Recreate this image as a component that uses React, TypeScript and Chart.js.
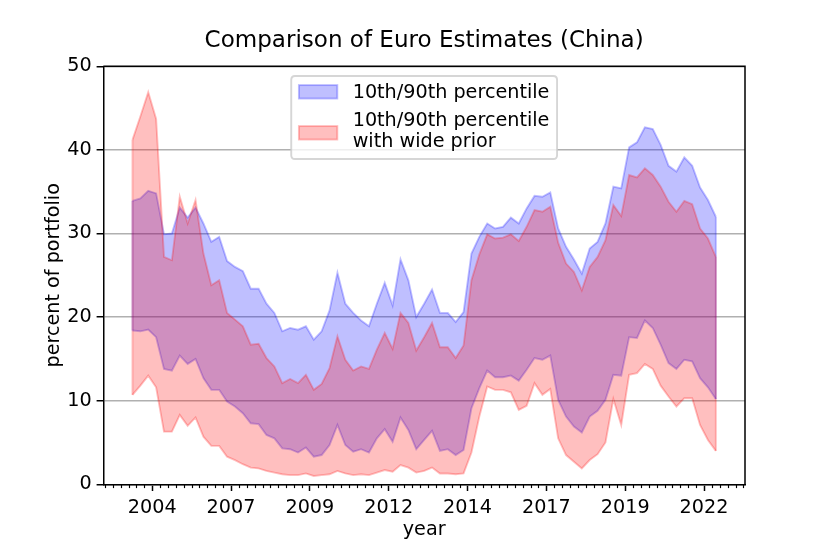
import React, { useEffect, useRef } from "react";
import { Chart, registerables } from "chart.js";

Chart.register(...registerables);

const TITLE = "Comparison of Euro Estimates (China)";
const X_LABEL = "year";
const Y_LABEL = "percent of portfolio";
const LEGEND_ROWS: string[][] = [["10th/90th percentile"], ["10th/90th percentile", "with wide prior"]];

// quarterly observations
const FIRST_QUARTER = 2003.375;
const QUARTER_STEP = 0.25;

const blueUpper = [
  33.9, 34.2, 35.1, 34.8, 29.9, 30.0, 33.1, 31.9, 33.1, 31.2,
  29.0, 29.6, 26.7, 26.0, 25.5, 23.4, 23.4, 21.6, 20.5, 18.3,
  18.7, 18.5, 18.9, 17.3, 18.3, 20.8, 25.3, 21.6, 20.5, 19.6,
  18.9, 21.6, 24.1, 21.4, 26.9, 24.4, 20.0, 21.6, 23.3, 20.5,
  20.5, 19.4, 20.6, 27.6, 29.6, 31.2, 30.6, 30.8, 31.9, 31.2,
  33.0, 34.5, 34.4, 34.9, 30.6, 28.4, 26.9, 25.2, 28.2, 29.0,
  31.2, 35.6, 35.4, 40.3, 40.9, 42.7, 42.5, 40.6, 38.1, 37.4,
  39.1, 38.1, 35.5, 34.0, 32.0,
];
const blueLower = [
  18.4, 18.3, 18.5, 17.6, 13.8, 13.6, 15.4, 14.4, 15.0, 12.7,
  11.3, 11.3, 9.9, 9.3, 8.5, 7.3, 7.2, 5.9, 5.5, 4.3,
  4.2, 3.8, 4.4, 3.3, 3.5, 4.7, 7.1, 4.7, 3.9, 4.2,
  3.8, 5.5, 6.6, 5.1, 8.0, 6.5, 4.2, 5.3, 6.4, 4.0,
  4.2, 3.5, 4.1, 9.1, 11.5, 13.6, 12.8, 12.8, 13.0, 12.4,
  13.7, 15.1, 14.9, 15.4, 10.1, 8.1, 6.9, 6.2, 8.1, 8.8,
  10.1, 13.1, 13.0, 17.6, 17.5, 19.6, 18.7, 16.7, 14.5, 13.8,
  14.9, 14.7, 12.7, 11.6, 10.2,
];
const redUpper = [
  41.2, 44.0, 46.9, 43.7, 27.2, 26.8, 34.4, 31.2, 34.0, 27.6,
  23.8, 24.4, 20.5, 19.7, 18.9, 16.7, 16.8, 15.1, 14.1, 12.1,
  12.6, 12.1, 13.1, 11.3, 12.0, 13.9, 17.7, 14.9, 13.6, 14.1,
  13.8, 16.1, 18.1, 16.2, 20.5, 19.3, 16.0, 17.6, 19.3, 16.4,
  16.4, 15.1, 16.6, 24.4, 27.5, 29.9, 29.4, 29.5, 29.9, 29.1,
  30.8, 32.8, 32.6, 33.2, 28.9, 26.4, 25.4, 23.2, 26.0, 27.2,
  29.2, 33.4, 32.1, 37.0, 36.7, 37.8, 37.0, 35.6, 33.8, 32.6,
  33.9, 33.5, 30.6, 29.4, 27.2,
];
const redLower = [
  10.7, 11.8, 13.0, 11.6, 6.3, 6.3, 8.3, 7.0, 8.0, 5.7,
  4.6, 4.6, 3.3, 2.9, 2.4, 2.0, 1.9, 1.6, 1.4, 1.2,
  1.1, 1.1, 1.3, 1.0, 1.1, 1.2, 1.6, 1.3, 1.1, 1.2,
  1.1, 1.4, 1.7, 1.5, 2.3, 2.0, 1.4, 1.6, 2.0, 1.3,
  1.3, 1.2, 1.3, 3.8, 8.1, 11.7, 11.3, 11.3, 11.0, 8.9,
  9.4, 12.1, 10.7, 11.4, 5.5, 3.5, 2.7, 1.9, 2.9, 3.6,
  5.0, 10.2, 7.1, 13.1, 13.3, 14.4, 13.8, 11.8, 10.5, 9.3,
  10.3, 10.3, 7.1, 5.3, 4.0,
];

const xTickValues = [2004, 2006.5, 2009, 2011.5, 2014, 2016.5, 2019, 2021.5];
const xTickLabels = ["2004", "2007", "2009", "2012", "2014", "2017", "2019", "2022"];
const yTickValues = [0, 10, 20, 30, 40, 50];

const BLUE = "rgba(0,0,255,0.25)";
const RED = "rgba(255,0,0,0.25)";
const FONT = "'DejaVu Sans', 'Liberation Sans', sans-serif";
const FS = 19.2;

const quarters = blueUpper.map((_, i) => FIRST_QUARTER + i * QUARTER_STEP);
const toPoints = (vals: number[]) => vals.map((y, i) => ({ x: quarters[i], y }));

const span = quarters[quarters.length - 1] - quarters[0];
const X_MIN = quarters[0] - 0.05 * span;
const X_MAX = quarters[quarters.length - 1] + 0.05 * span;

const bands = [
  { upper: redUpper, lower: redLower, color: RED },
  { upper: blueUpper, lower: blueLower, color: BLUE },
];

const endLinesPlugin = {
  id: "endLines",
  beforeDatasetsDraw(chart: any) {
    const { ctx, scales } = chart;
    const xs = scales.x;
    const ys = scales.y;
    ctx.save();
    ctx.lineWidth = 1.9;
    [...bands].reverse().forEach((b) => {
      ctx.strokeStyle = b.color;
      [0, quarters.length - 1].forEach((i) => {
        const px = xs.getPixelForValue(quarters[i]);
        ctx.beginPath();
        ctx.moveTo(px, ys.getPixelForValue(b.lower[i]));
        ctx.lineTo(px, ys.getPixelForValue(b.upper[i]));
        ctx.stroke();
      });
    });
    ctx.restore();
  },
};

const framePlugin = {
  id: "frame",
  afterDraw(chart: any) {
    const { ctx, chartArea: ca, scales } = chart;
    const xs = scales.x;
    ctx.save();
    // minor ticks on x
    ctx.strokeStyle = "#000";
    ctx.lineWidth = 1.15;
    const startK = Math.ceil(X_MIN / QUARTER_STEP);
    for (let k = startK; k * QUARTER_STEP <= X_MAX; k++) {
      const v = k * QUARTER_STEP;
      if (xTickValues.some((t) => Math.abs(t - v) < 1e-6)) continue;
      const px = Math.round(xs.getPixelForValue(v)) + 0.5;
      ctx.beginPath();
      ctx.moveTo(px, ca.bottom);
      ctx.lineTo(px, ca.bottom + 3.8);
      ctx.stroke();
    }
    // top and right spines
    ctx.lineWidth = 1.5;
    ctx.beginPath();
    ctx.moveTo(ca.left, ca.top);
    ctx.lineTo(ca.right, ca.top);
    ctx.lineTo(ca.right, ca.bottom);
    ctx.stroke();

    // legend
    ctx.font = `${FS}px ${FONT}`;
    let tw = 0;
    LEGEND_ROWS.forEach((r) => r.forEach((t) => (tw = Math.max(tw, ctx.measureText(t).width))));
    const pad = 0.4 * FS;
    const handleLen = 2 * FS;
    const handleGap = 0.8 * FS;
    const w = pad * 2 + handleLen + handleGap + tw;
    const h = 83;
    const left = (ca.left + ca.right) / 2 - w / 2;
    const top = ca.top + 9.7;
    const r = 0.2 * FS;
    ctx.beginPath();
    ctx.moveTo(left + r, top);
    ctx.lineTo(left + w - r, top);
    ctx.quadraticCurveTo(left + w, top, left + w, top + r);
    ctx.lineTo(left + w, top + h - r);
    ctx.quadraticCurveTo(left + w, top + h, left + w - r, top + h);
    ctx.lineTo(left + r, top + h);
    ctx.quadraticCurveTo(left, top + h, left, top + h - r);
    ctx.lineTo(left, top + r);
    ctx.quadraticCurveTo(left, top, left + r, top);
    ctx.closePath();
    ctx.fillStyle = "rgba(255,255,255,0.8)";
    ctx.fill();
    ctx.strokeStyle = "rgba(204,204,204,0.8)";
    ctx.lineWidth = 1.9;
    ctx.stroke();

    const colors = [BLUE, RED];
    const patchCenters = [15.8, 56.8];
    const baselines = [[21.7], [50, 71.3]];
    const ph = 0.7 * FS;
    LEGEND_ROWS.forEach((rows, ri) => {
      const py = top + patchCenters[ri] - ph / 2;
      const px = left + pad;
      ctx.fillStyle = colors[ri];
      ctx.fillRect(px, py, handleLen, ph);
      ctx.strokeStyle = colors[ri];
      ctx.lineWidth = 1.9;
      ctx.strokeRect(px, py, handleLen, ph);
      ctx.fillStyle = "#000";
      ctx.textBaseline = "alphabetic";
      ctx.textAlign = "left";
      rows.forEach((t, li) => {
        ctx.fillText(t, px + handleLen + handleGap, top + baselines[ri][li]);
      });
    });
    ctx.restore();
  },
};

export default function App() {
  const ref = useRef<HTMLCanvasElement | null>(null);

  useEffect(() => {
    if (!ref.current) return;
    const font = { family: FONT, size: FS, weight: "normal" as const };
    const chart = new Chart(ref.current, {
      type: "line",
      data: {
        datasets: [
          {
            label: "10th/90th percentile with wide prior (upper)",
            data: toPoints(redUpper),
            borderColor: RED,
            backgroundColor: RED,
            fill: "+1",
          },
          {
            label: "10th/90th percentile with wide prior (lower)",
            data: toPoints(redLower),
            borderColor: RED,
            backgroundColor: RED,
            fill: false,
          },
          {
            label: "10th/90th percentile (upper)",
            data: toPoints(blueUpper),
            borderColor: BLUE,
            backgroundColor: BLUE,
            fill: "+1",
          },
          {
            label: "10th/90th percentile (lower)",
            data: toPoints(blueLower),
            borderColor: BLUE,
            backgroundColor: BLUE,
            fill: false,
          },
        ],
      },
      options: {
        animation: false,
        responsive: false,
        maintainAspectRatio: false,
        layout: { padding: { left: 42.9, right: 85, top: 0, bottom: 12.4 } },
        elements: {
          point: { radius: 0, hoverRadius: 0 },
          line: { tension: 0, borderWidth: 1.9 },
        },
        plugins: {
          legend: { display: false },
          tooltip: { enabled: false },
          title: {
            display: true,
            text: TITLE,
            fullSize: false,
            color: "#000",
            font: { family: FONT, size: 23.04, weight: "normal" },
            padding: { top: 26.9, bottom: 11.75 },
          },
        },
        scales: {
          x: {
            type: "linear",
            min: X_MIN,
            max: X_MAX,
            afterFit: (s: any) => {
              s.height = 57.3;
            },
            afterBuildTicks: (s: any) => {
              s.ticks = xTickValues.map((v) => ({ value: v }));
            },
            ticks: {
              autoSkip: false,
              maxRotation: 0,
              minRotation: 0,
              padding: 5,
              color: "#000",
              font,
              callback: (_v: any, i: number) => xTickLabels[i],
            },
            grid: {
              drawOnChartArea: false,
              drawTicks: true,
              tickLength: 6.7,
              tickColor: "#000",
              tickWidth: 1.5,
            },
            border: { display: true, color: "#000", width: 1.5 },
            title: { display: true, text: X_LABEL, color: "#000", font, padding: 0 },
          },
          y: {
            type: "linear",
            min: 0,
            max: 50,
            z: 1,
            afterFit: (s: any) => {
              s.width = 103.3 - 42.9;
            },
            afterBuildTicks: (s: any) => {
              s.ticks = yTickValues.map((v) => ({ value: v }));
            },
            ticks: {
              padding: 5,
              color: "#000",
              font,
              callback: (v: any) => String(v),
            },
            grid: {
              color: "#b0b0b0",
              lineWidth: 1.5,
              drawTicks: true,
              tickLength: 6.7,
              tickColor: "#000",
              tickWidth: 1.5,
            },
            border: { display: true, color: "#000", width: 1.5 },
            title: { display: true, text: Y_LABEL, color: "#000", font, padding: 0 },
          },
        },
      } as any,
      plugins: [endLinesPlugin, framePlugin],
    });
    return () => chart.destroy();
  }, []);

  return (
    <div style={{ position: "fixed", left: 0, top: 0, width: 830, height: 554, background: "#fff" }}>
      <canvas ref={ref} width={830} height={554} style={{ display: "block" }} />
    </div>
  );
}
